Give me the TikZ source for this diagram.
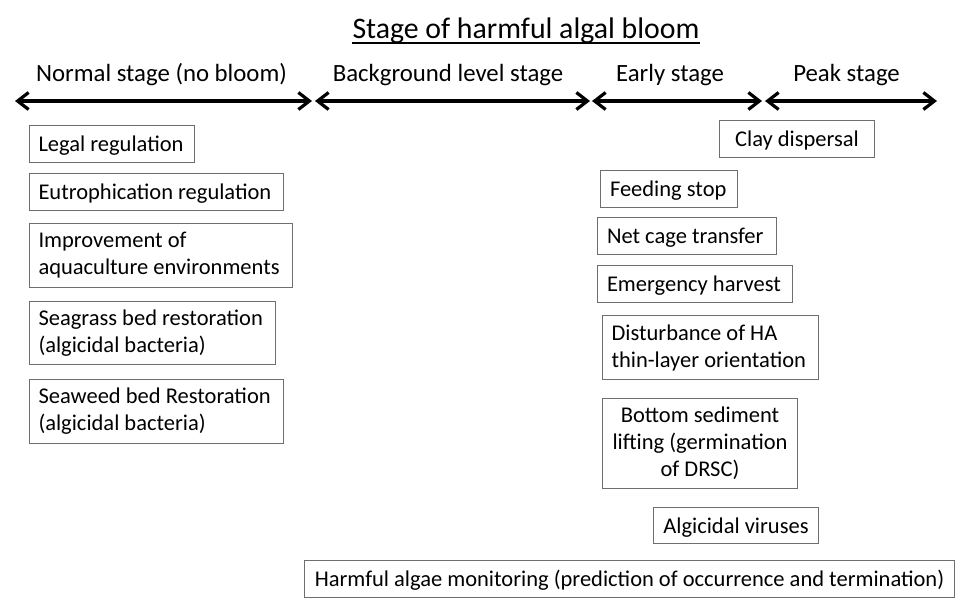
\documentclass[tikz,border=0pt]{standalone}
\usepackage{fontspec}
\setmainfont{Carlito}
\usetikzlibrary{arrows.meta}
\definecolor{boxgray}{RGB}{110,110,110}
\begin{document}
\begin{tikzpicture}[x=1pt,y=-1pt,
  box/.style={draw=boxgray, line width=1pt, anchor=north west, inner xsep=9pt, inner ysep=0pt,
    font=\fontsize{22.5}{27}\selectfont},
  multi/.style={align=flush left},
  one/.style={text height=18pt, text depth=3pt, align=center},
  onel/.style={text height=18pt, text depth=3pt, align=flush left},
  stagelbl/.style={anchor=base, inner sep=0pt, font=\fontsize{24.8}{29}\selectfont},
  stagearrow/.style={line width=3.2pt,
    arrows={Straight Barb[length=11pt,width=17pt]-Straight Barb[length=11pt,width=17pt]}}
]
\useasboundingbox (0,0) rectangle (957,611);

% title
\node[anchor=base, inner sep=0pt, font=\fontsize{29.8}{34}\selectfont] (title) at (526,38) {Stage of harmful algal bloom};
\draw[line width=1.6pt] ([yshift=-5pt]title.base west) -- ([yshift=-5pt]title.base east);

% stage labels
\node[stagelbl] (l1) at (161.5,81) {Normal stage (no bloom)};
\node[stagelbl] (l2) at (448,81) {Background level stage};
\node[stagelbl] (l3) at (670,81) {Early stage};
\node[stagelbl] (l4) at (846.5,81) {Peak stage};

% arrow end points
\coordinate (p0) at (15,101);
\coordinate (p1) at (312,101);
\coordinate (q1) at (315,101);
\coordinate (p2) at (590,101);
\coordinate (q2) at (592,101);
\coordinate (p3) at (762,101);
\coordinate (q3) at (765,101);
\coordinate (p4) at (937,101);
\draw[stagearrow] (p0) -- (p1);
\draw[stagearrow] (q1) -- (p2);
\draw[stagearrow] (q2) -- (p3);
\draw[stagearrow] (q3) -- (p4);

% left column
\node[box, onel, text width=147pt, minimum height=37pt] (legal) at (29,125) {Legal regulation};
\node[box, onel, text width=236pt, minimum height=37pt] (eutro) at (29,173) {Eutrophication regulation};
\node[box, multi, text width=245pt, minimum height=64pt] (improve) at (29,223) {Improvement of\\aquaculture environments};
\node[box, multi, text width=228pt, minimum height=63pt] (seagrass) at (29,301) {Seagrass bed restoration\\(algicidal bacteria)};
\node[box, multi, text width=236pt, minimum height=64pt] (seaweed) at (29,379) {Seaweed bed Restoration\\(algicidal bacteria)};

% right column
\node[box, one, minimum width=155pt, minimum height=37pt] (clay) at (719,120) {Clay dispersal};
\node[box, onel, inner xsep=9.5pt, text width=118pt, minimum height=37pt] (feeding) at (600,170) {Feeding stop};
\node[box, onel, inner xsep=9.5pt, text width=160pt, minimum height=37pt] (netcage) at (597,217) {Net cage transfer};
\node[box, onel, inner xsep=9.5pt, text width=176pt, minimum height=37pt] (emergency) at (597,265) {Emergency harvest};
\node[box, multi, text width=198pt, minimum height=64pt] (disturb) at (602,315) {Disturbance of HA\\thin-layer orientation};
\node[box, align=flush center, inner xsep=5pt, text width=185pt, minimum height=90pt] (bottom) at (602,398) {Bottom sediment\\lifting (germination\\of DRSC)};
\node[box, one, minimum width=165pt, minimum height=36pt] (viruses) at (653,507) {Algicidal viruses};
\node[box, one, minimum width=650pt, minimum height=37pt] (monitor) at (304,560) {Harmful algae monitoring (prediction of occurrence and termination)};
\end{tikzpicture}
\end{document}
